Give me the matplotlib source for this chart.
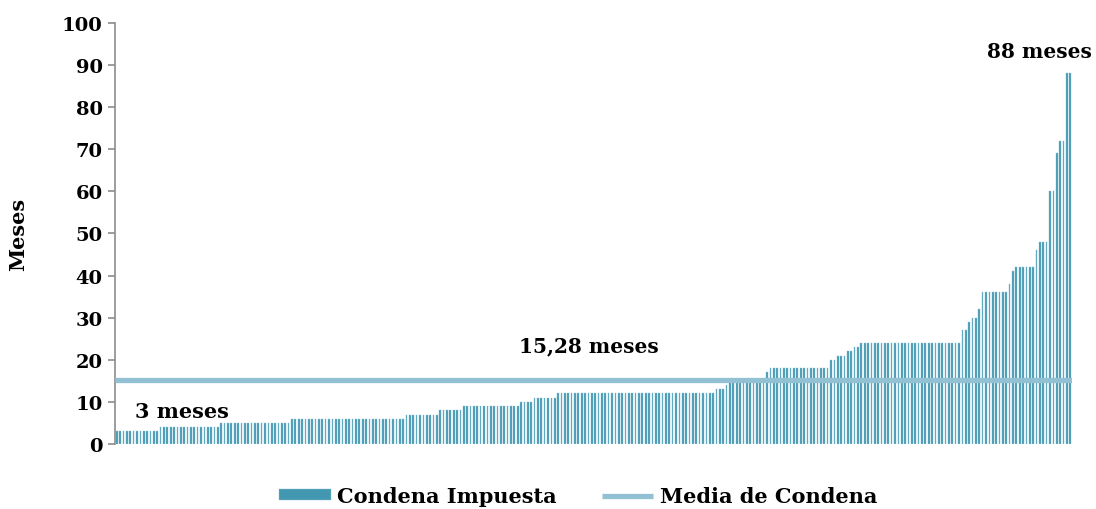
import matplotlib
matplotlib.use("Agg")
import matplotlib.pyplot as plt
import numpy as np

# Sentence lengths (months), sorted ascending: (value, count) runs
run_values = [3, 4, 5, 6, 7, 8, 9, 10, 11, 12, 13, 14, 15, 17, 18, 20, 21, 22, 23, 24,
              27, 29, 30, 32, 36, 38, 41, 42, 46, 48, 60, 69, 72, 88]
run_counts = [13, 18, 21, 34, 10, 7, 17, 4, 7, 47, 3, 1, 11, 1, 18, 2, 3, 2, 2, 30,
              2, 1, 2, 1, 8, 1, 1, 6, 1, 3, 2, 1, 2, 2]
condena = np.repeat(run_values, run_counts)
media = 15.28

yticks = list(range(0, 101, 10))
bar_color = '#4198b0'
mean_color = '#92c1d3'
font = ['DejaVu Serif']

fig = plt.figure(figsize=(10.96, 5.10), dpi=100)
ax = fig.add_axes([0.105, 0.1275, 0.873, 0.8255])

x = np.arange(len(condena))
bars = ax.bar(x, condena, width=0.5, color=bar_color, edgecolor='#8fc2d4', linewidth=0.3,
              label='Condena Impuesta', zorder=2)
line, = ax.plot([-0.5, len(condena) - 0.5], [media, media], color=mean_color, lw=3.8,
                solid_capstyle='butt', label='Media de Condena', zorder=3)

ax.set_xlim(-0.5, len(condena) - 0.5)
ax.set_ylim(0, 100)
ax.set_yticks(yticks)
ax.set_yticklabels([str(t) for t in yticks], family=font, fontweight='bold', fontsize=14)
ax.set_xticks([])
for s in ['top', 'right', 'bottom']:
    ax.spines[s].set_visible(False)
ax.spines['left'].set_color('#8c8c8c')
ax.spines['left'].set_linewidth(1.2)
ax.tick_params(axis='y', length=5, color='#8c8c8c', width=1.2, pad=4)
ax.set_ylabel('Meses', family=font, fontweight='bold', fontsize=15, labelpad=24)

ax.text(140, 22.1, '15,28 meses', family=font, fontweight='bold',
        fontsize=14.5, ha='center', va='baseline')
ax.text(5.5, 6.4, '3 meses', family=font, fontweight='bold', fontsize=15,
        ha='left', va='baseline')
ax.text(289.5, 91.9, '88 meses', family=font, fontweight='bold', fontsize=14.5,
        ha='right', va='baseline', clip_on=False)

handles = [bars, line]
leg = ax.legend(handles=handles, loc='upper center', bbox_to_anchor=(0.484, -0.055),
                ncol=2, frameon=False,
                prop={'family': font, 'weight': 'bold', 'size': 15},
                handlelength=2.45, handleheight=0.4, columnspacing=2.2, handletextpad=0.3)

fig.savefig('out.png', dpi=100)
